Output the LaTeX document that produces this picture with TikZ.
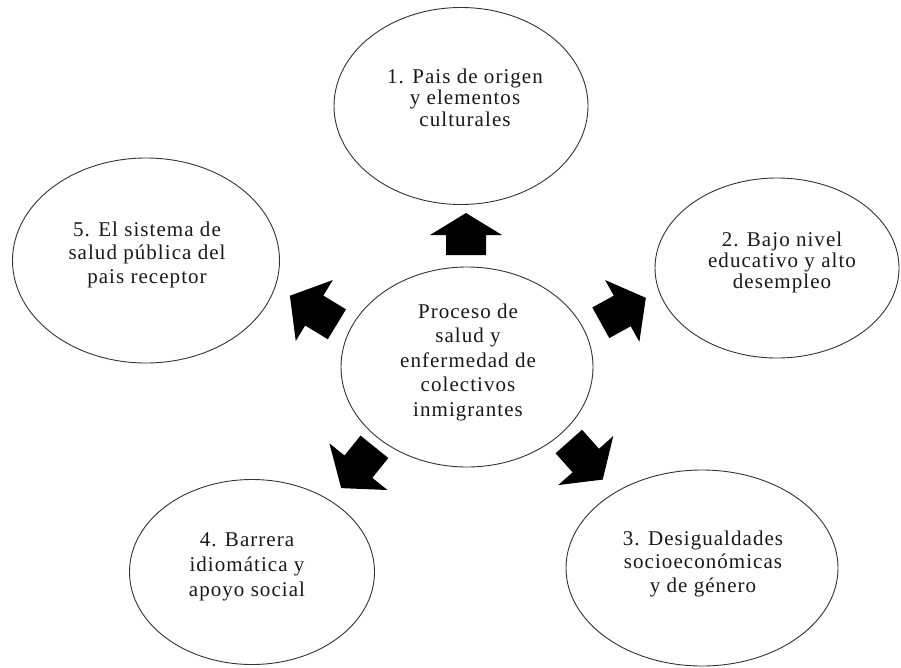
\documentclass[tikz,border=0pt]{standalone}
\usepackage{fontspec}
\setmainfont{Liberation Serif}[LetterSpace=5]
\usetikzlibrary{shapes.geometric}
\newcommand\blockarr[7]{%
  \fill[arrfill,shift={(#1,#2)},rotate=#3]
    (0,{-#7/2}) -- ({#4-#5},{-#7/2}) -- ({#4-#5},{-#6/2}) -- (#4,0)
    -- ({#4-#5},{#6/2}) -- ({#4-#5},{#7/2}) -- (0,{#7/2}) -- cycle;}
\newcommand\lines[2]{\fontsize{21}{#1}\selectfont\begin{tabular}[t]{@{}c@{}}#2\end{tabular}}
\begin{document}
\begin{tikzpicture}[x=1pt,y=-1pt,
  ell/.style={ellipse,draw=black!80,line width=0.9pt,inner sep=0pt,fill=white},
  txt/.style={anchor=base,inner sep=0pt,text=black!90},
  arrfill/.style={fill=black}]
\useasboundingbox (0,0) rectangle (901,667);
\fill[white] (0,0) rectangle (901,667);
% ellipses
\node[ell,minimum width=254pt,minimum height=197pt] (e1) at (461,106) {};
\node[ell,minimum width=244pt,minimum height=180pt] (e2) at (777,268) {};
\node[ell,minimum width=272pt,minimum height=196pt] (e3) at (702,568) {};
\node[ell,minimum width=245pt,minimum height=185pt] (e4) at (252,572) {};
\node[ell,minimum width=267pt,minimum height=205pt] (e5) at (146,260.5) {};
\node[ell,minimum width=252pt,minimum height=200pt] (c) at (467,367) {};
% texts
\node[txt] (t1) at (465,83) {\lines{21.7}{1. Pais de origen\\y elementos\\culturales}};
\node[txt] (t2) at (782,246.5) {\lines{21}{2. Bajo nivel\\educativo y alto\\desempleo}};
\node[txt] (t3) at (703,545) {\lines{23.5}{3. Desigualdades\\socioeconómicas\\y de género}};
\node[txt] (t4) at (247,546.5) {\lines{25}{4. Barrera\\idiomática y\\apoyo social}};
\node[txt] (t5) at (147,236.5) {\lines{23.3}{5. El sistema de\\salud pública del\\pais receptor}};
\node[txt] (tc) at (468,318) {\lines{24.6}{Proceso de\\salud y\\enfermedad de\\colectivos\\inmigrantes}};
% block arrows
\blockarr{466}{255}{90}{42}{22}{72}{40}
\blockarr{600.8}{322.8}{29}{51.5}{27}{70.6}{35}
\blockarr{336.9}{324.3}{148.7}{55}{28.5}{71.3}{35}
\blockarr{374.4}{446.8}{231.2}{53}{27.5}{74.5}{35.7}
\blockarr{568.8}{441.5}{-48.3}{51}{25.5}{73.7}{35.4}
\end{tikzpicture}
\end{document}
